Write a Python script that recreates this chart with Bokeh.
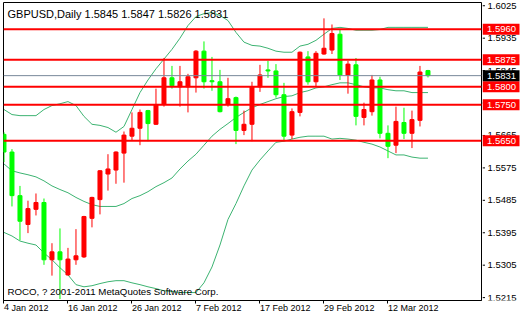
from bokeh.plotting import figure
from bokeh.layouts import row
from bokeh.models import Range1d, FixedTicker, Label, Span, ColumnDataSource
from bokeh.core.properties import value
from bokeh.embed import file_html
from bokeh.resources import INLINE

# ---- data (GBPUSD daily, 4 Jan 2012 .. 19 Mar 2012) ----
opens  = [1.5668, 1.5619, 1.5498, 1.5418, 1.5460, 1.5479, 1.5320, 1.5342, 1.5278, 1.5320,
          1.5328, 1.5435, 1.5487, 1.5558, 1.5569, 1.5616, 1.5663, 1.5685, 1.5734, 1.5696,
          1.5751, 1.5825, 1.5800, 1.5800, 1.5825, 1.5899, 1.5817, 1.5814, 1.5751, 1.5770,
          1.5679, 1.5696, 1.5800, 1.5847, 1.5844, 1.5778, 1.5666, 1.5729, 1.5883, 1.5814,
          1.5891, 1.5902, 1.5946, 1.5833, 1.5861, 1.5715, 1.5731, 1.5819, 1.5671, 1.5638,
          1.5701, 1.5671, 1.5707, 1.5845]
highs  = [1.5674, 1.5627, 1.5525, 1.5484, 1.5504, 1.5490, 1.5366, 1.5407, 1.5353, 1.5405,
          1.5442, 1.5495, 1.5569, 1.5613, 1.5621, 1.5676, 1.5729, 1.5737, 1.5736, 1.5795,
          1.5880, 1.5858, 1.5858, 1.5836, 1.5902, 1.5926, 1.5883, 1.5847, 1.5825, 1.5773,
          1.5734, 1.5814, 1.5861, 1.5872, 1.5863, 1.5811, 1.5740, 1.5898, 1.5899, 1.5899,
          1.5990, 1.5973, 1.5959, 1.5872, 1.5880, 1.5756, 1.5833, 1.5828, 1.5693, 1.5745,
          1.5742, 1.5734, 1.5858, 1.5847]
lows   = [1.5591, 1.5468, 1.5374, 1.5394, 1.5443, 1.5306, 1.5276, 1.5211, 1.5276, 1.5306,
          1.5325, 1.5410, 1.5446, 1.5512, 1.5531, 1.5534, 1.5652, 1.5638, 1.5649, 1.5694,
          1.5745, 1.5795, 1.5745, 1.5729, 1.5784, 1.5795, 1.5789, 1.5729, 1.5745, 1.5641,
          1.5666, 1.5649, 1.5786, 1.5825, 1.5770, 1.5649, 1.5655, 1.5718, 1.5806, 1.5800,
          1.5889, 1.5891, 1.5819, 1.5781, 1.5693, 1.5693, 1.5720, 1.5657, 1.5602, 1.5616,
          1.5655, 1.5630, 1.5690, 1.5826]
closes = [1.5619, 1.5498, 1.5427, 1.5462, 1.5479, 1.5320, 1.5342, 1.5320, 1.5322, 1.5331,
          1.5440, 1.5493, 1.5567, 1.5572, 1.5619, 1.5666, 1.5685, 1.5729, 1.5698, 1.5751,
          1.5825, 1.5803, 1.5814, 1.5828, 1.5899, 1.5814, 1.5814, 1.5731, 1.5767, 1.5679,
          1.5696, 1.5800, 1.5833, 1.5844, 1.5778, 1.5663, 1.5731, 1.5896, 1.5814, 1.5893,
          1.5907, 1.5948, 1.5833, 1.5863, 1.5718, 1.5737, 1.5819, 1.5671, 1.5635, 1.5704,
          1.5671, 1.5709, 1.5841, 1.5831]

# Bollinger bands
bb_upper = [1.5737, 1.5723, 1.5720, 1.5720, 1.5720, 1.5737, 1.5748, 1.5753, 1.5759, 1.5748,
            1.5718, 1.5696, 1.5693, 1.5687, 1.5674, 1.5690, 1.5737, 1.5784, 1.5819, 1.5850,
            1.5877, 1.5904, 1.5935, 1.5970, 1.5995, 1.6003, 1.6006, 1.5998, 1.5984, 1.5951,
            1.5924, 1.5915, 1.5913, 1.5907, 1.5899, 1.5896, 1.5896, 1.5913, 1.5918, 1.5929,
            1.5946, 1.5962, 1.5965, 1.5962, 1.5957, 1.5957, 1.5957, 1.5959, 1.5965, 1.5965,
            1.5965, 1.5965, 1.5965, 1.5965]
bb_middle = [1.5586, 1.5567, 1.5561, 1.5556, 1.5550, 1.5539, 1.5525, 1.5515, 1.5506, 1.5493,
             1.5482, 1.5473, 1.5468, 1.5468, 1.5468, 1.5476, 1.5490, 1.5498, 1.5509, 1.5523,
             1.5534, 1.5547, 1.5572, 1.5594, 1.5613, 1.5638, 1.5663, 1.5682, 1.5698, 1.5715,
             1.5729, 1.5742, 1.5751, 1.5759, 1.5767, 1.5773, 1.5775, 1.5784, 1.5789, 1.5797,
             1.5800, 1.5806, 1.5811, 1.5811, 1.5806, 1.5800, 1.5797, 1.5797, 1.5792, 1.5789,
             1.5789, 1.5784, 1.5784, 1.5784]
bb_lower = [1.5396, 1.5386, 1.5372, 1.5366, 1.5361, 1.5339, 1.5320, 1.5298, 1.5278, 1.5251,
            1.5245, 1.5248, 1.5254, 1.5259, 1.5262, 1.5262, 1.5256, 1.5251, 1.5245, 1.5240,
            1.5234, 1.5232, 1.5229, 1.5229, 1.5229, 1.5256, 1.5300, 1.5361, 1.5432, 1.5476,
            1.5525, 1.5569, 1.5597, 1.5622, 1.5646, 1.5649, 1.5655, 1.5660, 1.5663, 1.5663,
            1.5663, 1.5655, 1.5657, 1.5655, 1.5652, 1.5646, 1.5641, 1.5633, 1.5622, 1.5611,
            1.5611, 1.5605, 1.5602, 1.5602]

# horizontal levels
levels = [1.5960, 1.5875, 1.5800, 1.5750, 1.5650]
current_price = 1.5831

# axis ticks
x_tick_idx = [0, 8, 16, 24, 32, 40, 48]
x_tick_labels = ["4 Jan 2012", "16 Jan 2012", "26 Jan 2012", "7 Feb 2012",
                 "17 Feb 2012", "29 Feb 2012", "12 Mar 2012"]
y_ticks = [1.5215, 1.5305, 1.5395, 1.5485, 1.5575, 1.5665, 1.5755, 1.5845, 1.5935, 1.6025]

title_text = "GBPUSD,Daily  1.5845 1.5847 1.5826 1.5831"
copyright_text = "ROCO, ? 2001-2011 MetaQuotes Software Corp."

# ---- build ----
UP = "#FF0000"
DOWN = "#00FF00"
BAND = "#3CB371"
FONT = "Liberation Sans"
FS = "9.5px"

n = len(opens)
idx = list(range(n))
colors = [UP if c >= o else DOWN for o, c in zip(opens, closes)]
src = ColumnDataSource(dict(
    x=idx, o=opens, h=highs, l=lows, c=closes,
    top=[max(o, c) for o, c in zip(opens, closes)],
    bot=[min(o, c) for o, c in zip(opens, closes)],
    color=colors,
))

yr = Range1d(1.5207, 1.6034)
BOTTOM = 18

# main chart (frame x 3..481)
p = figure(width=482, height=320, output_backend="svg", toolbar_location=None,
           x_range=Range1d(-0.06, 59.69), y_range=yr,
           y_axis_location=None, title=None,
           min_border_left=3, min_border_top=2, min_border_right=1, min_border_bottom=BOTTOM)
p.background_fill_color = "white"
p.border_fill_color = "white"
p.outline_line_color = "black"
p.outline_line_width = 1
p.xgrid.visible = False
p.ygrid.visible = False

p.line(idx, bb_upper, line_color=BAND, line_width=1)
p.line(idx, bb_middle, line_color=BAND, line_width=1)
p.line(idx, bb_lower, line_color=BAND, line_width=1)

p.segment(x0="x", y0="h", x1="x", y1="l", source=src, line_color="color", line_width=1)
p.vbar(x="x", width=0.5, top="top", bottom="bot", source=src,
       fill_color="color", line_color="color", line_width=1)

for lv in levels:
    p.add_layout(Span(location=lv, dimension="width", line_color="#FF0000", line_width=2))
p.add_layout(Span(location=current_price, dimension="width", line_color="#778899", line_width=1))

xa = p.xaxis[0]
xa.ticker = FixedTicker(ticks=x_tick_idx)
xa.major_label_overrides = {i: t for i, t in zip(x_tick_idx, x_tick_labels)}
xa.major_label_orientation = -0.0001   # left-aligned labels starting at the tick
xa.major_tick_in = 0
xa.major_tick_out = 3
xa.minor_tick_out = 0
xa.minor_tick_in = 0
xa.major_label_standoff = 4
xa.axis_line_color = "black"
xa.major_tick_line_color = "black"
xa.major_label_text_font = FONT
xa.major_label_text_font_size = "9px"
xa.major_label_text_color = "black"

p.add_layout(Label(x=0.44, y=1.6020, text=title_text, text_color="black",
                   text_font=FONT, text_font_size="11px", text_baseline="top"))
p.add_layout(Label(x=0.44, y=1.5218, text=copyright_text, text_color="black",
                   text_font=FONT, text_font_size="9.7px", text_baseline="bottom"))

# price scale panel on the right (x 482..520), sharing the price range
q = figure(width=38, height=320, output_backend="svg", toolbar_location=None,
           x_range=Range1d(0, 38), y_range=yr,
           x_axis_location=None, y_axis_location=None, title=None,
           min_border_left=0, min_border_right=0, min_border_top=2, min_border_bottom=BOTTOM)
q.outline_line_color = None
q.background_fill_color = "white"
q.border_fill_color = "white"
q.xgrid.visible = False
q.ygrid.visible = False

tick_src = ColumnDataSource(dict(y=y_ticks, label=[f"{t:.4f}" for t in y_ticks]))
q.segment(x0=0, x1=2.5, y0="y", y1="y", source=tick_src, line_color="black", line_width=1)
q.text(x=5, y="y", text="label", source=tick_src, text_font=value(FONT),
       text_font_size=FS, text_color="black", text_baseline="middle", text_align="left")

box_vals = levels + [current_price]
box_src = ColumnDataSource(dict(
    y=box_vals,
    label=[f"{v:.4f}" for v in box_vals],
    fill=["#FF0000"] * len(levels) + ["black"],
))
q.rect(x=18.5, y="y", width=37, height=11, width_units="screen", height_units="screen",
       source=box_src, fill_color="fill", line_color=None)
q.text(x=4.5, y="y", text="label", source=box_src, text_font=value(FONT),
       text_font_size=FS, text_color="white", text_baseline="middle", text_align="left")

layout = row(p, q, spacing=0)
open("out.html", "w").write(file_html(layout, INLINE))
